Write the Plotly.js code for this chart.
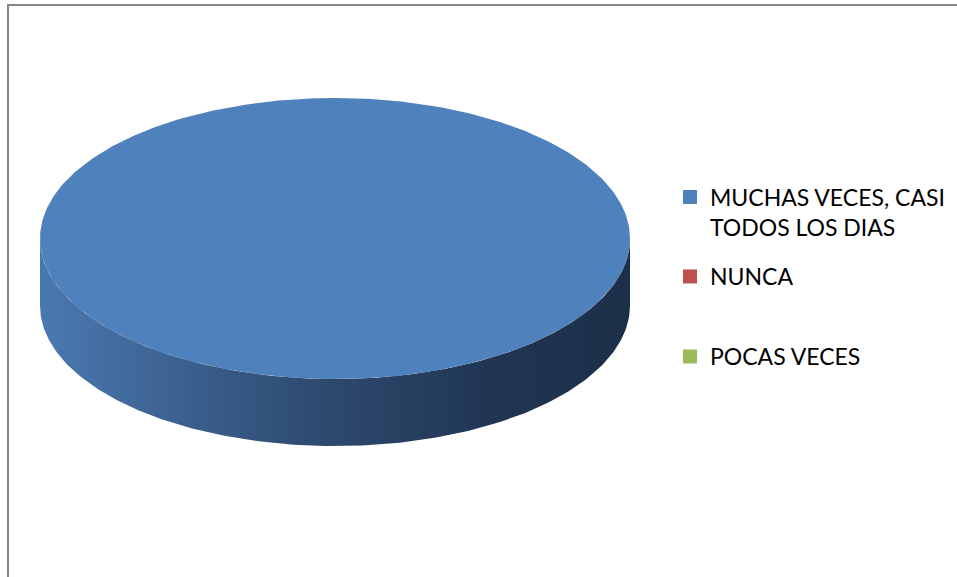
<!DOCTYPE html>
<html>
<head>
<meta charset="utf-8">
<script src="https://cdn.plot.ly/plotly-3.0.1.min.js"></script>
<style>html,body{margin:0;padding:0;background:#fff;}#chart{width:957px;height:577px;}</style>
</head>
<body>
<div id="chart"></div>
<script>
// ---- data ----
const categories = ["MUCHAS VECES, CASI TODOS LOS DIAS", "NUNCA", "POCAS VECES"];
const legendLabels = ["MUCHAS VECES, CASI<br>TODOS LOS DIAS", "NUNCA", "POCAS VECES"];
const values = [100, 0, 0];
const colors = ["#4F81BD", "#C0504D", "#9BBB59"];
const sideScales = [
  [[0, "#4a79b1"], [0.45, "#2f4c72"], [0.75, "#213654"], [1, "#1d2f48"]],
  [[0, "#c0504d"], [1, "#5a2322"]],
  [[0, "#9bbb59"], [1, "#48582a"]]
];

// ---- geometry (pixel space of the plot) ----
const W = 957, H = 577;
const cx = 335, cy = 238.5, rx = 295, ry = 140.5, depth = 67;
const total = values.reduce((a, b) => a + b, 0);

function pt(theta) { // theta in degrees, 0 = 12 o'clock, clockwise
  const r = theta * Math.PI / 180;
  return [cx + rx * Math.sin(r), cy - ry * Math.cos(r)];
}
function arc(a0, a1, dy) {
  const xs = [], ys = [];
  const n = Math.max(2, Math.ceil((a1 - a0) / 1));
  for (let i = 0; i <= n; i++) {
    const p = pt(a0 + (a1 - a0) * i / n);
    xs.push(p[0]); ys.push(p[1] + dy);
  }
  return [xs, ys];
}

const sideTraces = [], topTraces = [], legendTraces = [];
let acc = 0;
values.forEach((v, i) => {
  const a0 = acc / total * 360, a1 = (acc + v) / total * 360;
  acc += v;
  if (v <= 0) return;
  // side (front half: 90..270 deg)
  const s0 = Math.max(a0, 90), s1 = Math.min(a1, 270);
  if (s1 > s0) {
    const [tx, ty] = arc(s0, s1, 0);
    const [bx, by] = arc(s0, s1, depth);
    sideTraces.push({
      type: "scatter", mode: "lines", hoverinfo: "skip", showlegend: false,
      x: tx.concat(bx.slice().reverse(), [tx[0]]),
      y: ty.concat(by.slice().reverse(), [ty[0]]),
      line: { width: 0 }, fill: "toself",
      fillgradient: { type: "horizontal", colorscale: sideScales[i], start: cx - rx, stop: cx + rx }
    });
  }
  // top face
  let [ax, ay] = arc(a0, a1, 0);
  if (a1 - a0 < 360) { ax = [cx].concat(ax, [cx]); ay = [cy].concat(ay, [cy]); }
  topTraces.push({
    type: "scatter", mode: "lines", hoverinfo: "skip", showlegend: false,
    x: ax, y: ay, line: { width: 0 }, fill: "toself", fillcolor: colors[i]
  });
});

const legendNames = ["legend", "legend2", "legend3"];
categories.forEach((c, i) => {
  legendTraces.push({
    type: "scatter", mode: "markers", x: [null], y: [null],
    name: legendLabels[i], legend: legendNames[i],
    marker: { symbol: "square", size: 14, color: colors[i] }
  });
});

const font = { family: "Lato, 'Open Sans', sans-serif", size: 23, color: "#000" };
function lg(px, py, anchor) {
  return { x: px / W, y: 1 - py / H, xanchor: "left", yanchor: anchor, bgcolor: "rgba(0,0,0,0)",
           borderwidth: 0, font: font, valign: "top", itemclick: false, itemdoubleclick: false };
}

const layout = {
  width: W, height: H,
  margin: { l: 0, r: 0, t: 0, b: 0 },
  paper_bgcolor: "#fff", plot_bgcolor: "#fff",
  xaxis: { range: [0, W], visible: false, fixedrange: true },
  yaxis: { range: [H, 0], visible: false, fixedrange: true },
  showlegend: true,
  legend: lg(670, 212, "middle"),
  legend2: lg(670, 276.5, "middle"),
  legend3: lg(670, 356.5, "middle"),
  shapes: [{
    type: "rect", xref: "paper", yref: "paper",
    x0: 8 / W, x1: 1.05, y0: -0.05, y1: 1 - 5 / H,
    line: { color: "#868686", width: 2 }, fillcolor: "rgba(0,0,0,0)", layer: "above"
  }]
};

Plotly.newPlot("chart", sideTraces.concat(topTraces, legendTraces), layout, { displayModeBar: false, staticPlot: true });
</script>
</body>
</html>
